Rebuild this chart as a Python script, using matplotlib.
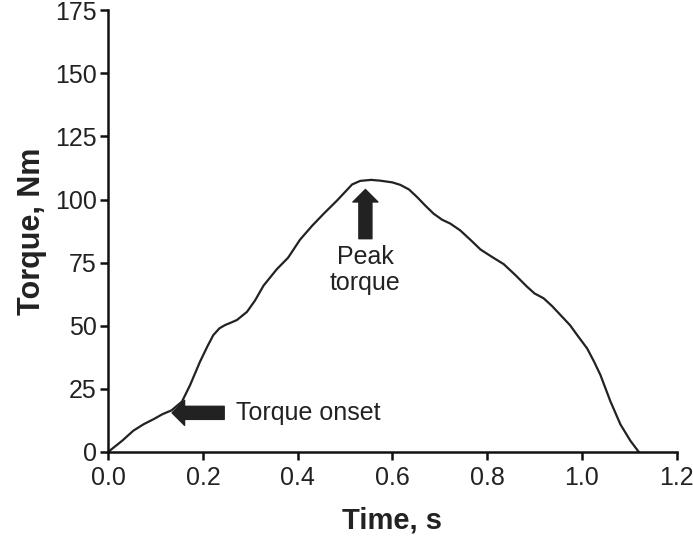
import matplotlib.pyplot as plt

plt.rcParams['font.family'] = ['Liberation Sans', 'DejaVu Sans']

# curve
time_s = [0.00, 0.03, 0.053, 0.075, 0.096, 0.115, 0.134, 0.156, 0.173, 0.194,
          0.210, 0.222, 0.235, 0.247, 0.260, 0.272, 0.293, 0.310, 0.328, 0.356,
          0.380, 0.405, 0.430, 0.455, 0.483, 0.500, 0.515, 0.532, 0.555, 0.574,
          0.600, 0.617, 0.635, 0.652, 0.670, 0.687, 0.705, 0.722, 0.743, 0.765,
          0.786, 0.810, 0.835, 0.860, 0.884, 0.900, 0.919, 0.937, 0.955, 0.975,
          0.990, 1.011, 1.025, 1.039, 1.060, 1.081, 1.102, 1.120]
torque_nm = [0.0, 4.5, 8.4, 11.0, 13.0, 15.0, 16.5, 20.0, 26.5, 35.8,
             42.0, 46.3, 49.0, 50.3, 51.3, 52.3, 55.5, 60.0, 65.9, 72.4,
             77.0, 84.1, 89.5, 94.4, 99.6, 103.0, 106.0, 107.4, 107.8, 107.5,
             106.8, 105.8, 104.0, 101.0, 97.5, 94.4, 92.0, 90.5, 87.8, 84.0,
             80.2, 77.3, 74.4, 70.0, 65.5, 62.8, 60.9, 57.8, 54.2, 50.2,
             46.3, 41.0, 36.0, 30.5, 20.1, 11.0, 4.5, 0.0]

x_ticks = [0.0, 0.2, 0.4, 0.6, 0.8, 1.0, 1.2]
y_ticks = [0, 25, 50, 75, 100, 125, 150, 175]

fig = plt.figure(figsize=(6.93, 5.4), dpi=100)
ax = fig.add_axes([0.156, 0.163, 0.8205, 0.818])

ax.plot(time_s, torque_nm, color='#222222', lw=1.6)

ax.set_xlim(0, 1.2)
ax.set_ylim(0, 175)
ax.set_xticks(x_ticks)
ax.set_xticklabels([f'{v:.1f}' for v in x_ticks])
ax.set_yticks(y_ticks)

for s in ['top', 'right']:
    ax.spines[s].set_visible(False)
for s in ['left', 'bottom']:
    ax.spines[s].set_linewidth(1.8)
    ax.spines[s].set_color('#111111')

ax.tick_params(direction='out', length=6, width=1.8, color='#111111',
               labelsize=18, labelcolor='#222222')
ax.tick_params(axis='x', pad=4)
ax.tick_params(axis='y', pad=2)

ax.set_xlabel('Time, s', fontsize=21, fontweight='bold', color='#222222', labelpad=12)
ax.set_ylabel('Torque, Nm', fontsize=22, fontweight='bold', color='#222222', labelpad=6)

# arrows
arrow = dict(arrowstyle='simple,head_length=0.45,head_width=0.9,tail_width=0.47',
             color='#222222', shrinkA=0, shrinkB=0, mutation_scale=20)
ax.annotate('', xy=(0.135, 15.5), xytext=(0.245, 15.5), arrowprops=arrow)
ax.text(0.270, 15.5, 'Torque onset', fontsize=18, color='#222222',
        va='center', ha='left')

ax.annotate('', xy=(0.543, 104), xytext=(0.543, 84.5), arrowprops=arrow)
ax.text(0.543, 82, 'Peak\ntorque', fontsize=18, color='#222222',
        va='top', ha='center', linespacing=1.1)

fig.savefig('out.png', dpi=100)
